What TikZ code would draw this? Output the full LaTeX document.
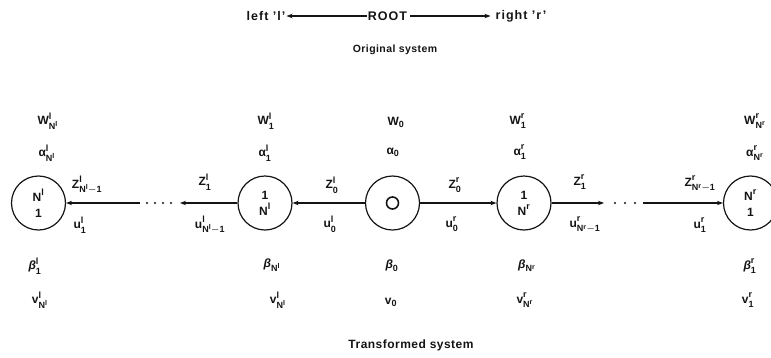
\documentclass[tikz,border=0pt]{standalone}
\usepackage{fontspec}
\setmainfont{Liberation Sans}
\setsansfont{Liberation Sans}
\usetikzlibrary{arrows.meta}
\definecolor{ink}{HTML}{141414}
\DeclareMathSizes{12}{12}{9}{7}
\newcommand{\lbl}{\fontsize{12}{14}\selectfont\bfseries\boldmath}
\newcommand{\ttl}{\fontsize{12.5}{14}\selectfont\bfseries\addfontfeatures{LetterSpace=8}}
\newcommand{\sub}{\fontsize{10.5}{12}\selectfont\bfseries\addfontfeatures{LetterSpace=4}}
\newcommand{\ga}{\mbox{α}}
\newcommand{\gb}{\mbox{\itshape β}}
\tikzset{
  lab/.style={inner sep=0,font=\lbl,text=ink},
  vtx/.style={circle,draw=ink,line width=1.2pt,minimum size=54pt,inner sep=0,align=center,font=\lbl,text=ink},
  arr/.style={ink,line width=1.1pt,-{Stealth[length=6pt,width=4.5pt]}}
}
\begin{document}
\sbox0{\lbl$\fontdimen14\textfont2=5.6pt \fontdimen17\textfont2=4.2pt$}%
\begin{tikzpicture}[x=1pt,y=-1pt]
\useasboundingbox (0,0) rectangle (771,357);
\clip (0,0) rectangle (771,357);
\node[lab,font=\ttl] (root) at (387.5,16) {ROOT};
\node[lab,font=\ttl] (left) at (266,16) {left 'l'};
\node[lab,font=\ttl] (right) at (521,16) {right 'r'};
\draw[arr] ([xshift=-1pt]root.west) -- ([xshift=1pt]left.east);
\draw[arr,shorten <=3pt,shorten >=5pt] (root.east) -- (right.west);
\node[lab,font=\sub] (orig) at (395,50) {Original system};
\node[lab,font=\sub\fontsize{12}{14}\selectfont] (trans) at (411,345) {Transformed system};
\node[vtx] (cNl) at (38.5,203) {$\mathsf{N^l}$\\[2pt]$\mathsf{1}$};
\node[vtx] (cl1) at (265,203) {$\mathsf{1}$\\[2pt]$\mathsf{N^l}$};
\node[vtx] (croot) at (392.5,203) {};
\node[circle,draw=ink,line width=1.6pt,minimum size=12pt,inner sep=0] (hub) at (croot) {};
\node[vtx] (cr1) at (524,203) {$\mathsf{1}$\\[2pt]$\mathsf{N^r}$};
\node[vtx] (cNr) at (750.5,203) {$\mathsf{N^r}$\\[2pt]$\mathsf{1}$};
\coordinate (gl1) at (180,203);
\coordinate (gl2) at (140,203);
\coordinate (gr1) at (604,203);
\coordinate (gr2) at (643,203);
\draw[arr] (croot) -- (cl1);
\draw[arr] (croot) -- (cr1);
\draw[arr] (cl1) -- (gl1);
\draw[arr] (gl2) -- (cNl);
\draw[arr] (cr1) -- (gr1);
\draw[arr] (gr2) -- (cNr);
\foreach \x in {147,155,163,171} \fill[ink] (\x,203) circle (1.1);
\foreach \x in {615,625,635} \fill[ink] (\x,203) circle (1.1);
\node[lab] (wNl) at (48,121) {$\mathsf{W^l_{N^l}}$};
\node[lab] (w1l) at (266,121) {$\mathsf{W^l_1}$};
\node[lab] (w0) at (396,122) {$\mathsf{W_0}$};
\node[lab] (w1r) at (518,121) {$\mathsf{W^r_1}$};
\node[lab] (wNr) at (755,121) {$\mathsf{W^r_{N^r}}$};
\node[lab] (aNl) at (47,153) {$\mathsf{\ga^l_{N^l}}$};
\node[lab] (a1l) at (265,153) {$\mathsf{\ga^l_1}$};
\node[lab] (a0) at (393,152) {$\mathsf{\ga_0}$};
\node[lab] (a1r) at (520,152) {$\mathsf{\ga^r_1}$};
\node[lab] (aNr) at (755,153) {$\mathsf{\ga^r_{N^r}}$};
\node[lab] (zNl) at (87,185) {$\mathsf{Z^l_{N^l-1}}$};
\node[lab] (z1l) at (205,182) {$\mathsf{Z^l_1}$};
\node[lab] (z0l) at (332,185) {$\mathsf{Z^l_0}$};
\node[lab] (z0r) at (455,185) {$\mathsf{Z^r_0}$};
\node[lab] (z1r) at (580,182) {$\mathsf{Z^r_1}$};
\node[lab] (zNr) at (700,184) {$\mathsf{Z^r_{N^r-1}}$};
\node[lab] (u1l) at (80,225) {$\mathsf{u^l_1}$};
\node[lab] (uNl) at (210,225) {$\mathsf{u^l_{N^l-1}}$};
\node[lab] (u0l) at (330,224) {$\mathsf{u^l_0}$};
\node[lab] (u0r) at (452,224) {$\mathsf{u^r_0}$};
\node[lab] (uNr) at (585,225) {$\mathsf{u^r_{N^r-1}}$};
\node[lab] (u1r) at (700,225) {$\mathsf{u^r_1}$};
\node[lab] (b1l) at (35,266) {$\mathsf{\gb^l_1}$};
\node[lab] (bNl) at (272,265) {$\mathsf{\gb_{N^l}}$};
\node[lab] (b0) at (392,266) {$\mathsf{\gb_0}$};
\node[lab] (bNr) at (527,266) {$\mathsf{\gb_{N^r}}$};
\node[lab] (b1r) at (750,266) {$\mathsf{\gb^r_1}$};
\node[lab] (vNl) at (40,300) {$\mathsf{v^l_{N^l}}$};
\node[lab] (vNl2) at (278,300) {$\mathsf{v^l_{N^l}}$};
\node[lab] (v0) at (391,302) {$\mathsf{v_0}$};
\node[lab] (vNr) at (525,300) {$\mathsf{v^r_{N^r}}$};
\node[lab] (v1r) at (748,300) {$\mathsf{v^r_1}$};
\end{tikzpicture}
\end{document}
